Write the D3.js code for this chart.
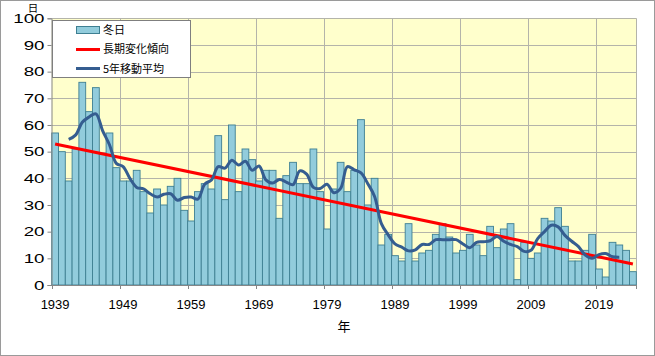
<!DOCTYPE html>
<html>
<head>
<meta charset="utf-8">
<script src="https://cdn.jsdelivr.net/npm/d3@7"></script>
<style>
  html, body { margin: 0; padding: 0; background: #ffffff; }
  svg { display: block; }
  text { font-family: "Liberation Sans", "Noto Sans CJK JP", sans-serif; fill: #000; }
</style>
</head>
<body>
<svg id="chart" width="655" height="356"></svg>
<script>
// ---- data ----
const years = [
  1939,1940,1941,1942,1943,1944,1945,1946,1947,1948,
  1949,1950,1951,1952,1953,1954,1955,1956,1957,1958,
  1959,1960,1961,1962,1963,1964,1965,1966,1967,1968,
  1969,1970,1971,1972,1973,1974,1975,1976,1977,1978,
  1979,1980,1981,1982,1983,1984,1985,1986,1987,1988,
  1989,1990,1991,1992,1993,1994,1995,1996,1997,1998,
  1999,2000,2001,2002,2003,2004,2005,2006,2007,2008,
  2009,2010,2011,2012,2013,2014,2015,2016,2017,2018,
  2019,2020,2021,2022,2023,2024
];
const winterDays = [
  57,50,39,51,76,65,74,49,57,44,
  39,39,43,35,27,36,30,37,40,28,
  24,35,38,36,56,32,60,35,51,47,
  39,43,43,25,41,46,38,38,51,35,
  21,36,46,35,43,62,30,40,15,19,
  11,9,23,9,12,13,19,23,18,12,
  13,19,15,11,22,14,21,23,2,16,
  10,12,25,24,29,22,9,9,13,19,
  6,3,16,15,13,5
];
// 5-year moving average (centered), 1941 .. 2022
const maYears = [
  1941,1942,1943,1944,1945,1946,1947,1948,1949,1950,
  1951,1952,1953,1954,1955,1956,1957,1958,1959,1960,
  1961,1962,1963,1964,1965,1966,1967,1968,1969,1970,
  1971,1972,1973,1974,1975,1976,1977,1978,1979,1980,
  1981,1982,1983,1984,1985,1986,1987,1988,1989,1990,
  1991,1992,1993,1994,1995,1996,1997,1998,1999,2000,
  2001,2002,2003,2004,2005,2006,2007,2008,2009,2010,
  2011,2012,2013,2014,2015,2016,2017,2018,2019,2020,
  2021,2022
];
const maValues = [
  54.6,56.2,61.0,63.0,64.2,57.8,52.6,45.6,44.4,40.0,
  36.6,36.0,34.2,33.0,34.0,34.2,31.8,32.8,33.0,32.2,
  37.8,39.4,44.4,43.8,46.8,45.0,46.4,43.0,44.6,39.4,
  38.2,39.6,38.6,37.6,42.8,41.6,36.6,36.2,37.8,34.6,
  36.2,44.4,43.2,42.0,38.0,33.2,23.0,18.8,15.4,14.2,
  12.8,13.2,15.2,15.2,17.0,17.0,17.0,17.0,15.4,14.0,
  16.0,16.2,16.6,18.2,16.4,15.2,14.4,12.6,13.0,17.4,
  20.0,22.4,21.8,18.6,16.4,14.4,11.2,10.0,11.4,11.8,
  10.6,10.4
];
// long-term trend line endpoints
const trendYears = [1939, 2024];
const trendValues = [52.9, 7.9];
const yTicks = [0,10,20,30,40,50,60,70,80,90,100];
const xTickYears = [1939,1949,1959,1969,1979,1989,1999,2009,2019];
const legendLabels = ["冬日", "長期変化傾向", "5年移動平均"];
const yAxisTitle = "日";
const xAxisTitle = "年";

// ---- layout ----
const svg = d3.select("#chart");
const L = 51.7, R = 636.3, T = 18.3, B = 285;

const x = d3.scaleBand().domain(years).range([L, R]).padding(0);
const y = d3.scaleLinear().domain([0, 100]).range([B, T]);
const cx = yr => x(yr) + x.bandwidth() / 2;

// outer border
svg.append("rect").attr("x", 0.5).attr("y", 0.5).attr("width", 654).attr("height", 355)
  .attr("fill", "#fff").attr("stroke", "#9a9a9a");

// plot background
svg.append("rect").attr("x", L).attr("y", T).attr("width", R - L).attr("height", B - T)
  .attr("fill", "#FFFFCC");

// horizontal gridlines
svg.append("g").selectAll("line").data(yTicks.filter(d => d > 0)).join("line")
  .attr("x1", L).attr("x2", R)
  .attr("y1", d => Math.round(y(d)) + 0.5).attr("y2", d => Math.round(y(d)) + 0.5)
  .attr("stroke", "#B4B4AA").attr("stroke-width", 1);

// vertical gridlines at decade boundaries
svg.append("g").selectAll("line").data(xTickYears.slice(1)).join("line")
  .attr("x1", d => Math.round(x(d)) + 0.5).attr("x2", d => Math.round(x(d)) + 0.5)
  .attr("y1", T).attr("y2", B)
  .attr("stroke", "#B4B4AA").attr("stroke-width", 1);
svg.append("line").attr("x1", Math.round(R) + 0.5).attr("x2", Math.round(R) + 0.5)
  .attr("y1", T).attr("y2", B).attr("stroke", "#B4B4AA");

// bars
svg.append("g").selectAll("rect").data(years).join("rect")
  .attr("x", d => x(d))
  .attr("y", (d, i) => y(winterDays[i]))
  .attr("width", x.bandwidth())
  .attr("height", (d, i) => B - y(winterDays[i]))
  .attr("fill", "#92CCDC")
  .attr("stroke", "#3E7F92")
  .attr("stroke-width", 0.9);

// trend line
svg.append("path")
  .datum(trendYears.map((yr, i) => [cx(yr), y(trendValues[i])]))
  .attr("d", d3.line())
  .attr("fill", "none").attr("stroke", "#FF0000").attr("stroke-width", 3);

// moving average line
svg.append("path")
  .datum(maYears.map((yr, i) => [cx(yr), y(maValues[i])]))
  .attr("d", d3.line().curve(d3.curveCatmullRom.alpha(0.5)))
  .attr("fill", "none").attr("stroke", "#355D90").attr("stroke-width", 3)
  .attr("stroke-linejoin", "round");

// y axis
const yAxis = d3.axisLeft(y).tickValues(yTicks).tickSize(4).tickPadding(3);
const gy = svg.append("g").attr("transform", `translate(${Math.round(L) - 0.5},0)`).call(yAxis);
gy.select(".domain").attr("stroke", "#868686");
gy.selectAll(".tick line").attr("stroke", "#868686");
gy.selectAll(".tick text").attr("font-size", 13).attr("fill", "#000")
  .attr("textLength", d => String(d).length * 10.4)
  .attr("lengthAdjust", "spacingAndGlyphs")
  .style("font-family", '"Liberation Sans", sans-serif');

// x axis line
svg.append("line").attr("x1", L).attr("x2", R).attr("y1", B + 0.5).attr("y2", B + 0.5)
  .attr("stroke", "#868686");
// x axis tick marks at decade boundaries
const tickXs = xTickYears.map(d => Math.round(x(d)) + 0.5).concat([Math.round(R) + 0.5]);
svg.append("g").selectAll("line").data(tickXs).join("line")
  .attr("x1", d => d).attr("x2", d => d)
  .attr("y1", B).attr("y2", B + 4)
  .attr("stroke", "#868686");
// x tick labels
svg.append("g").selectAll("text").data(xTickYears).join("text")
  .attr("x", d => cx(d)).attr("y", 309)
  .attr("text-anchor", "middle").attr("font-size", 13)
  .text(d => d);

// axis titles
svg.append("text").attr("x", 33).attr("y", 12.3).attr("text-anchor", "middle")
  .attr("font-size", 10.5).style("font-family", '"Noto Sans CJK JP", sans-serif').text(yAxisTitle);
svg.append("text").attr("x", 344).attr("y", 331).attr("text-anchor", "middle")
  .attr("font-size", 13).style("font-family", '"Noto Sans CJK JP", sans-serif').text(xAxisTitle);

// legend
const lg = svg.append("g");
lg.append("rect").attr("x", 52.5).attr("y", 20.5).attr("width", 138).attr("height", 57)
  .attr("fill", "#fff").attr("stroke", "#7f7f7f");
lg.append("rect").attr("x", 76.5).attr("y", 26.5).attr("width", 23).attr("height", 7)
  .attr("fill", "#92CCDC").attr("stroke", "#3E7F92");
lg.append("line").attr("x1", 76).attr("x2", 100).attr("y1", 49.5).attr("y2", 49.5)
  .attr("stroke", "#FF0000").attr("stroke-width", 3);
lg.append("line").attr("x1", 76).attr("x2", 100).attr("y1", 68.5).attr("y2", 68.5)
  .attr("stroke", "#355D90").attr("stroke-width", 3);
const ly = [30, 49.5, 69];
lg.selectAll("text.lab").data(legendLabels).join("text").attr("class", "lab")
  .attr("x", 103).attr("y", (d, i) => ly[i]).attr("dy", "0.36em")
  .attr("font-size", 11).style("font-family", '"Noto Sans CJK JP", sans-serif')
  .text(d => d);
</script>
</body>
</html>
